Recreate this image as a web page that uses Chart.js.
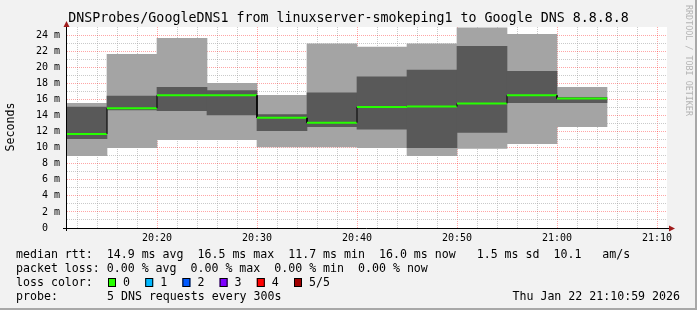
<!DOCTYPE html>
<html>
<head>
<meta charset="utf-8">
<script src="https://cdn.jsdelivr.net/npm/chart.js@4/dist/chart.umd.min.js"></script>
<style>
  html, body { margin: 0; padding: 0; background: #f2f2f2; }
  canvas { display: block; }
</style>
</head>
<body>
<canvas id="graph" width="697" height="310"></canvas>
<script>
'use strict';

// 5 minute slots, start time of each step
const slots = ['20:10', '20:15', '20:20', '20:25', '20:30', '20:35', '20:40', '20:45', '20:50', '20:55', '21:00'];
// smoke: outer band (fastest / slowest ping) and inner band (2nd / 4th ping), in ms
const pingLow   = [9.0, 10.0, 11.0, 11.0, 10.1, 10.1, 10.0, 9.0, 9.9, 10.5, 12.6];
const pingHigh  = [15.5, 21.6, 23.6, 18.0, 16.5, 22.9, 22.5, 22.9, 24.9, 24.1, 17.5];
const innerLow  = [11.1, 14.7, 14.6, 14.05, 12.1, 12.6, 12.3, 10.0, 11.9, 15.6, 15.6];
const innerHigh = [15.05, 16.4, 17.5, 17.1, 14.1, 16.8, 18.8, 19.65, 22.6, 19.5, 16.25];
const median    = [11.7, 14.9, 16.5, 16.5, 13.7, 13.1, 15.05, 15.1, 15.5, 16.5, 16.1];

const xTicks = ['20:20', '20:30', '20:40', '20:50', '21:00', '21:10'];
const yTicks = [0, 2, 4, 6, 8, 10, 12, 14, 16, 18, 20, 22, 24];

const legendLines = [
    'median rtt:  14.9 ms avg  16.5 ms max  11.7 ms min  16.0 ms now   1.5 ms sd  10.1   am/s',
    'packet loss: 0.00 % avg  0.00 % max  0.00 % min  0.00 % now'
];
const lossLabels = ['0', '1', '2', '3', '4', '5/5'];
const lossColors = ['#26ff00', '#00b8ff', '#0059ff', '#7e00ff', '#ff0000', '#a00000'];

const baseHour = 20;
const step = 5;
const toMin = s => { const [h, m] = s.split(':').map(Number); return (h - baseHour) * 60 + m; };
const fmtMin = v => `${baseHour + Math.floor(v / 60)}:${String(v % 60).padStart(2, '0')}`;

const mono = 'DejaVu Sans Mono';
const minorGrid = 'rgba(150,150,150,0.5)';
const majorGrid = 'rgba(255,0,0,0.35)';
const dots = [1, 1];

// median as a step line: horizontal parts green, the jumps thin black
const medianPts = [];
slots.forEach((s, i) => {
    medianPts.push({ x: toMin(s), y: median[i] });
    medianPts.push({ x: toMin(s) + step, y: median[i] });
});
const isJump = c => c.p0.parsed.x === c.p1.parsed.x;

const frame = {
    id: 'frame',
    beforeDraw(chart) {
        const { ctx, chartArea: a, width, height } = chart;
        ctx.save();
        ctx.fillStyle = '#f2f2f2';
        ctx.fillRect(0, 0, width, height);
        ctx.fillStyle = '#a8a8a8';
        ctx.fillRect(width - 2, 0, 2, height);
        ctx.fillRect(0, height - 2, width, 2);
        ctx.fillStyle = '#fff';
        ctx.fillRect(a.left, a.top, a.right - a.left, a.bottom - a.top);
        ctx.restore();
    },
    afterDraw(chart) {
        const { ctx, chartArea: a, width } = chart;
        ctx.save();
        // axes
        ctx.strokeStyle = '#000';
        ctx.lineWidth = 1;
        ctx.beginPath();
        ctx.moveTo(a.left - 4, a.bottom + 0.5);
        ctx.lineTo(a.right + 3, a.bottom + 0.5);
        ctx.moveTo(a.left - 0.5, a.bottom + 3);
        ctx.lineTo(a.left - 0.5, a.top - 2);
        ctx.stroke();
        ctx.fillStyle = '#a01c1c';
        ctx.beginPath();
        ctx.moveTo(a.right + 2, a.bottom - 2.5);
        ctx.lineTo(a.right + 8, a.bottom + 0.5);
        ctx.lineTo(a.right + 2, a.bottom + 3.5);
        ctx.fill();
        ctx.beginPath();
        ctx.moveTo(a.left - 3.5, a.top);
        ctx.lineTo(a.left - 0.5, a.top - 6);
        ctx.lineTo(a.left + 2.5, a.top);
        ctx.fill();

        // title
        ctx.fillStyle = '#000';
        ctx.textBaseline = 'middle';
        ctx.textAlign = 'center';
        ctx.font = `13.3px "${mono}"`;
        ctx.fillText('DNSProbes/GoogleDNS1 from linuxserver-smokeping1 to Google DNS 8.8.8.8', width / 2, 19);

        // y title
        ctx.font = `11.6px "${mono}"`;
        ctx.save();
        ctx.translate(11, 127);
        ctx.rotate(-Math.PI / 2);
        ctx.fillText('Seconds', 0, 0);
        ctx.restore();

        // legend
        ctx.textAlign = 'left';
        ctx.fillText(legendLines[0], 16, 254.5);
        ctx.fillText(legendLines[1], 16, 268.5);
        ctx.fillText('loss color:', 16, 282.5);
        lossLabels.forEach((l, i) => {
            const bx = 108 + i * 37.2;
            ctx.fillStyle = lossColors[i];
            ctx.fillRect(bx, 278, 8, 9);
            ctx.strokeStyle = '#000';
            ctx.strokeRect(bx + 0.5, 278.5, 7, 8);
            ctx.fillStyle = '#000';
            ctx.fillText(l, bx + 15, 282.5);
        });
        ctx.fillText('probe:', 16, 296.5);
        ctx.fillText('5 DNS requests every 300s', 107, 296.5);
        ctx.textAlign = 'right';
        ctx.fillText('Thu Jan 22 21:10:59 2026', 680, 296.5);

        // watermark
        ctx.fillStyle = '#b4b4b4';
        ctx.textAlign = 'left';
        ctx.font = `8.4px "${mono}"`;
        ctx.translate(688, 5);
        ctx.rotate(Math.PI / 2);
        ctx.fillText('RRDTOOL / TOBI OETIKER', 0, 0);
        ctx.restore();
    }
};

const tickFont = { family: mono, size: 10 };

new Chart(document.getElementById('graph'), {
    type: 'bar',
    data: {
        datasets: [{
            type: 'line',
            order: 0,
            data: medianPts,
            pointRadius: 0,
            borderColor: '#26ff00',
            borderWidth: 2,
            segment: {
                borderColor: c => isJump(c) ? '#000' : '#26ff00',
                borderWidth: c => isJump(c) ? 1 : 2
            }
        }, {
            order: 1,
            data: slots.map((s, i) => ({ x: toMin(s) + step / 2, y: [innerLow[i], innerHigh[i]] })),
            backgroundColor: '#595959'
        }, {
            order: 2,
            data: slots.map((s, i) => ({ x: toMin(s) + step / 2, y: [pingLow[i], pingHigh[i]] })),
            backgroundColor: '#a4a4a4'
        }].map(d => Object.assign(d, { xAxisID: 'x', yAxisID: 'y' }, d.type ? {} : {
            grouped: false,
            barPercentage: 1,
            categoryPercentage: 1,
            borderWidth: 0
        }))
    },
    options: {
        responsive: false,
        animation: false,
        devicePixelRatio: 1,
        layout: { padding: { top: 27, left: 0, right: 30, bottom: 0 } },
        plugins: {
            legend: { display: false },
            tooltip: { enabled: false }
        },
        scales: {
            x: {
                type: 'linear',
                min: toMin('20:11'),
                max: toMin('21:11'),
                offset: false,
                z: 2,
                afterBuildTicks: s => { s.ticks = xTicks.map(t => ({ value: toMin(t) })); },
                afterFit: s => { s.height = 82; },
                grid: { color: majorGrid, drawTicks: false, offset: false },
                border: { display: false, dash: dots },
                ticks: { padding: 4, maxRotation: 0, autoSkip: false, font: tickFont, color: '#000', callback: v => fmtMin(v) }
            },
            x2: {
                type: 'linear',
                position: 'bottom',
                min: toMin('20:11'),
                max: toMin('21:11'),
                offset: false,
                z: 1,
                afterBuildTicks: s => {
                    const t = [];
                    for (let v = 12; v <= 70; v += 2) if (v % 10) t.push({ value: v });
                    s.ticks = t;
                },
                afterFit: s => { s.height = 0; },
                grid: { color: minorGrid, drawTicks: false, offset: false },
                border: { display: false, dash: dots },
                ticks: { display: false }
            },
            y: {
                type: 'linear',
                min: 0,
                max: 25,
                z: 1,
                afterBuildTicks: s => {
                    const t = [];
                    for (let v = 0; v <= 24; v++) t.push({ value: v });
                    s.ticks = t;
                },
                afterFit: s => { s.width = 67; },
                grid: { color: c => yTicks.includes(c.tick.value) ? majorGrid : minorGrid, drawTicks: false },
                border: { display: false, dash: dots },
                ticks: {
                    padding: 7, autoSkip: false, font: tickFont, color: '#000',
                    callback: v => yTicks.includes(v) ? (v ? v + ' m' : '0  ') : ''
                }
            }
        }
    },
    plugins: [frame]
});
</script>
</body>
</html>
